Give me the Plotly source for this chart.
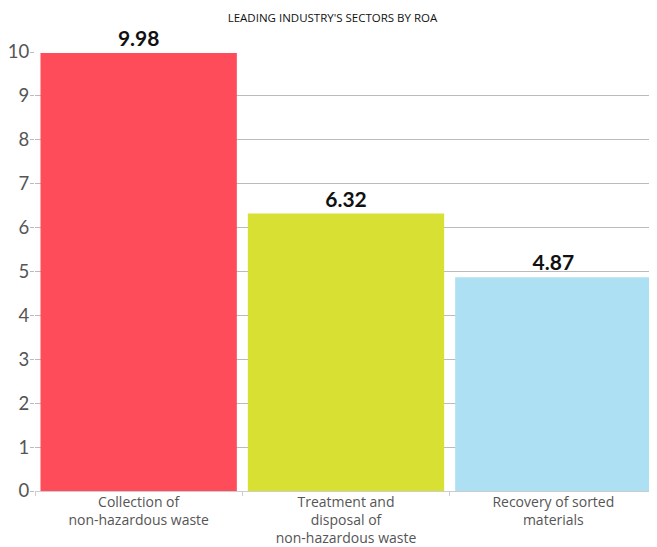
import plotly.graph_objects as go

# sectors and ROA values
sectors = ["Collection of<br>non-hazardous waste",
           "Treatment and<br>disposal of<br>non-hazardous waste",
           "Recovery of sorted<br>materials"]
roa = [9.98, 6.32, 4.87]
labels = ["9.98", "6.32", "4.87"]
colors = ["#FF4C5B", "#D8E033", "#ADE0F2"]

fig = go.Figure()
fig.add_trace(go.Bar(
    x=sectors,
    y=roa,
    marker=dict(color=colors, line=dict(width=0)),
    text=labels,
    textposition="outside",
    textfont=dict(family="Lato, Open Sans, sans-serif", size=21, color="#111111"),
    texttemplate="<b>%{text}</b>",
    cliponaxis=False,
))

# page body has an 8px default margin, so the figure is 8px smaller
fig.update_layout(
    width=649, height=539,
    margin=dict(l=27, r=0, t=44, b=56),
    plot_bgcolor="white",
    paper_bgcolor="white",
    bargap=0.053,
    showlegend=False,
    title=dict(text="LEADING INDUSTRY'S SECTORS BY ROA",
               x=0.5, xanchor="center", y=0.981, yanchor="middle",
               font=dict(family="Open Sans, sans-serif", size=11.5, color="#111111")),
    font=dict(family="Open Sans, sans-serif"),
)
fig.update_yaxes(
    range=[0, 10], dtick=1, automargin=False,
    showgrid=True, gridcolor="#BBBBBB", gridwidth=1,
    zeroline=False,
    ticks="outside", ticklen=4, tickcolor="#BBBBBB",
    ticklabelstandoff=-3,
    tickfont=dict(family="Lato, sans-serif", size=18.5, color="#555555"),
)
fig.update_xaxes(
    automargin=False,
    showline=True, linecolor="#CCCCCC", linewidth=1,
    ticks="outside", tickson="boundaries", ticklen=4, tickcolor="#CCCCCC",
    ticklabelstandoff=-2,
    tickfont=dict(family="Open Sans, sans-serif", size=14, color="#555555"),
)

fig.write_html("out.html")
